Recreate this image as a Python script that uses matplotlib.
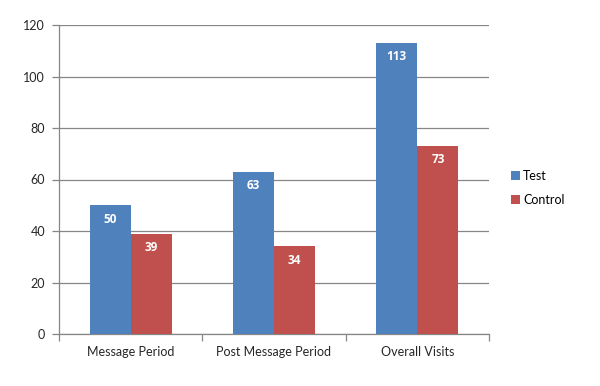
import matplotlib.pyplot as plt
import numpy as np

categorias = ['Message Period', 'Post Message Period', 'Overall Visits']
test = [50, 63, 113]
control = [39, 34, 73]
series = ['Test', 'Control']

azul = '#4F81BD'
rojo = '#C0504D'
gris = '#868686'

plt.rcParams['font.family'] = ['Lato', 'DejaVu Sans']

fig = plt.figure(figsize=(6, 3.86), dpi=100)
ax = fig.add_axes([59 / 600, 1 - 334 / 386, 430 / 600, 309 / 386])

x = np.arange(len(categorias))
ancho = 0.286

b1 = ax.bar(x - ancho / 2, test, ancho, color=azul, label=series[0], zorder=3)
b2 = ax.bar(x + ancho / 2, control, ancho, color=rojo, label=series[1], zorder=3)

# etiquetas blancas adentro de las barras
for barras in (b1, b2):
    for b in barras:
        ax.annotate(str(int(b.get_height())),
                    (b.get_x() + b.get_width() / 2, b.get_height()),
                    xytext=(0, -10), textcoords='offset points',
                    ha='center', va='center', color='white',
                    fontweight='bold', fontsize=8.5, family='Open Sans', zorder=4)

ax.set_xlim(-0.5, 2.5)
ax.set_ylim(0, 120)
ax.set_yticks(range(0, 121, 20))
ax.yaxis.grid(True, color=gris, linewidth=0.9, zorder=0)

ax.set_xticks(x)
ax.set_xticklabels(categorias)
ax.set_xticks([-0.5, 0.5, 1.5, 2.5], minor=True)
ax.tick_params(axis='x', which='major', length=0, pad=9, labelsize=9, labelcolor='#262626')
ax.tick_params(axis='x', which='minor', length=5, color=gris, width=0.9)
ax.tick_params(axis='y', length=5, color=gris, width=0.9, pad=5, labelsize=9, labelcolor='#262626')

for lado in ('top', 'right'):
    ax.spines[lado].set_visible(False)
for lado in ('left', 'bottom'):
    ax.spines[lado].set_color(gris)
    ax.spines[lado].set_linewidth(0.9)

fig.legend(loc='center left', bbox_to_anchor=(500 / 600, 1 - 188 / 386),
           frameon=False, fontsize=9, handlelength=0.7, handleheight=0.7,
           handletextpad=0.25, labelspacing=1.0)

plt.savefig('out.png', dpi=100)
